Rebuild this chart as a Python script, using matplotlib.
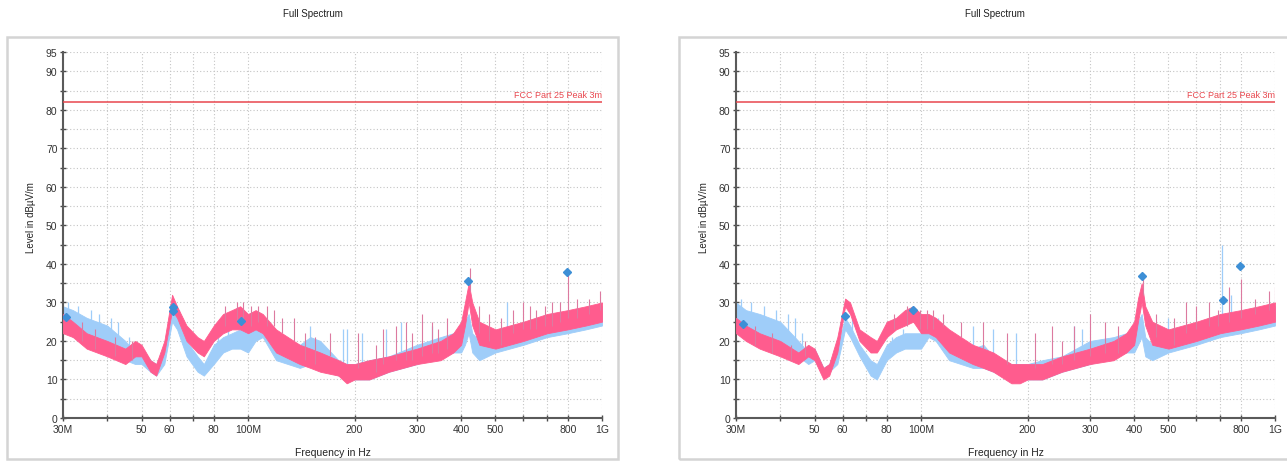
import numpy as np
import matplotlib
matplotlib.use("Agg")
import matplotlib.pyplot as plt
from matplotlib.patches import Rectangle
from matplotlib.ticker import FixedLocator, NullFormatter

plt.rcParams["font.family"] = ["Liberation Sans", "DejaVu Sans"]

# frequency grid in MHz, shared by all traces
freq = [30, 32, 35, 40, 45, 48, 50, 53, 55, 58, 61, 63, 67, 72, 75, 80, 85, 90, 95, 100,
        105, 110, 120, 140, 150, 160, 180, 190, 200, 220, 250, 300, 350, 380, 400, 410,
        420, 430, 450, 500, 600, 700, 800, 900, 1000]

# left chart, envelopes in dBuV/m
pink_lo_l = [22, 21, 18, 16, 14, 16, 16, 12, 11, 17, 28, 26, 20, 17, 16, 20, 22, 23, 23, 22,
             23, 22, 17, 14, 13, 12, 11, 9, 10, 10, 12, 14, 15, 17, 19, 24,
             30, 24, 19, 18, 20, 22, 23, 24, 25]
pink_hi_l = [27, 25, 22, 20, 18, 20, 19, 15, 14, 20, 32, 29, 24, 21, 20, 24, 27, 28, 29, 27,
             28, 27, 23, 19, 18, 17, 15, 14, 14, 15, 16, 18, 20, 22, 25, 30,
             35, 30, 25, 23, 25, 27, 28, 29, 30]
blue_lo_l = [24, 21, 20, 18, 15, 14, 14, 12, 11, 14, 25, 23, 16, 12, 11, 14, 17, 18, 18, 17,
             20, 21, 15, 13, 14, 13, 11, 10, 10, 10, 12, 14, 16, 17, 17, 19,
             22, 17, 15, 17, 19, 21, 22, 23, 24]
blue_hi_l = [29, 28, 26, 24, 20, 17, 18, 15, 14, 18, 28, 26, 20, 16, 14, 19, 21, 22, 23, 22,
             25, 25, 21, 19, 21, 20, 15, 14, 14, 15, 16, 19, 21, 22, 23, 25,
             27, 22, 20, 21, 24, 26, 27, 28, 29]

# right chart
pink_lo_r = [22, 20, 18, 16, 14, 16, 15, 10, 11, 17, 29, 27, 20, 17, 17, 21, 23, 24, 25, 22,
             22, 21, 17, 14, 13, 12, 9, 9, 10, 10, 12, 14, 15, 17, 19, 25,
             30, 24, 19, 18, 20, 22, 23, 24, 25]
pink_hi_r = [26, 24, 22, 20, 17, 19, 18, 13, 14, 21, 31, 30, 23, 21, 20, 25, 26, 28, 29, 27,
             27, 26, 23, 19, 18, 17, 14, 14, 14, 14, 16, 18, 20, 22, 25, 31,
             35, 29, 25, 23, 25, 27, 28, 29, 30]
blue_lo_r = [25, 23, 22, 19, 16, 14, 15, 11, 12, 14, 23, 21, 16, 11, 10, 15, 17, 18, 18, 18,
             21, 20, 15, 13, 13, 12, 10, 10, 10, 10, 12, 14, 16, 17, 17, 19,
             21, 16, 15, 17, 19, 21, 22, 23, 24]
blue_hi_r = [30, 28, 27, 25, 20, 17, 18, 13, 14, 18, 26, 24, 19, 15, 14, 19, 21, 22, 22, 22,
             25, 24, 20, 18, 19, 16, 14, 14, 14, 15, 16, 20, 21, 22, 23, 25,
             27, 21, 19, 21, 24, 26, 27, 28, 29]

# spikes: frequency, base level, top level
pspk_f_l = [34, 37, 42, 47, 86, 93, 97, 102, 107, 113, 118, 125, 135, 145, 155, 170, 205, 230,
            240, 262, 280, 290, 310, 330, 345, 365, 425, 450, 480, 520, 560, 600, 625, 650,
            690, 720, 760, 800, 850, 920, 990]
pspk_b_l = [20, 18, 16, 15, 24, 25, 25, 24, 25, 24, 24, 22, 20, 15, 14, 16, 13, 12,
            14, 15, 15, 15, 16, 17, 17, 18, 33, 22, 20, 19, 22, 23, 23, 23,
            24, 24, 25, 26, 26, 27, 28]
pspk_t_l = [25, 23, 21, 20, 29, 30, 30, 29, 29, 29, 28, 26, 26, 22, 21, 22, 22, 19,
            23, 24, 25, 22, 27, 25, 23, 26, 39, 29, 27, 26, 28, 30, 29, 28,
            29, 30, 30, 37, 31, 31, 33]
bspk_f_l = [31, 33, 36, 38, 41, 43, 46, 64, 82, 88, 98, 104, 108, 112, 150, 185, 190, 210,
            245, 270, 330, 540]
bspk_b_l = [25, 24, 22, 21, 19, 18, 16, 24, 16, 19, 19, 21, 22, 22, 19, 13, 13, 13,
            14, 15, 17, 21]
bspk_t_l = [30, 29, 28, 27, 26, 25, 21, 28, 21, 23, 24, 27, 27, 26, 24, 23, 23, 22,
            23, 25, 24, 30]

pspk_f_r = [34, 38, 43, 47, 84, 91, 99, 104, 108, 115, 130, 150, 175, 210, 235, 250, 270, 300,
            330, 360, 425, 460, 520, 560, 600, 650, 690, 740, 800, 880, 960, 1000]
pspk_b_r = [19, 17, 15, 16, 23, 24, 23, 23, 23, 24, 21, 18, 14, 13, 14, 14, 15, 16,
            17, 17, 32, 21, 19, 22, 23, 24, 24, 25, 26, 27, 28, 28]
pspk_t_r = [24, 22, 19, 20, 27, 29, 28, 28, 28, 27, 25, 25, 22, 22, 24, 20, 24, 27,
            25, 24, 37, 27, 26, 30, 29, 30, 28, 34, 36, 31, 33, 34]
bspk_f_r = [31, 33, 36, 39, 42, 44, 46, 64, 83, 89, 101, 106, 112, 140, 160, 185, 270, 285,
            500, 710, 750]
bspk_b_r = [26, 24, 23, 21, 19, 18, 17, 22, 17, 19, 19, 22, 22, 17, 15, 13, 15, 16,
            20, 25, 25]
bspk_t_r = [31, 30, 29, 28, 27, 26, 22, 26, 21, 23, 23, 26, 26, 24, 23, 22, 24, 23,
            26, 45, 32]

# detected peaks
mk_f_l = [30.5, 61.2, 61.2, 95.4, 417, 795]
mk_v_l = [26.1, 28.7, 27.8, 25.3, 35.6, 37.8]
mk_f_r = [31.5, 60.8, 94.9, 422, 711, 795]
mk_v_r = [24.4, 26.4, 28.0, 36.9, 30.7, 39.5]

limit_level = 82
limit_name = "FCC Part 25 Peak 3m"

xticks = [30, 40, 50, 60, 70, 80, 100, 200, 300, 400, 500, 600, 700, 800, 1000]
xlabels = ["30M", "", "50", "60", "", "80", "100M", "200", "300", "400", "500", "", "", "800", "1G"]
yticks = [0, 10, 20, 30, 40, 50, 60, 70, 80, 90, 95]
yminor = [5, 15, 25, 35, 45, 55, 65, 75, 85]

PINK = "#ff5c8e"
BLUE = "#9fcdf9"
MARK = "#3d8fd6"
LIMIT = "#e8474e"
W, H = 1287, 464

fig = plt.figure(figsize=(W / 100, H / 100), dpi=100)


def draw_panel(px0, box_x0, box_x1, pink_lo, pink_hi, blue_lo, blue_hi,
               pspk, bspk, mk_f, mk_v):
    # grey frame around the chart
    fig.patches.append(Rectangle((box_x0 / W, 1 - 460 / H), (box_x1 - box_x0) / W, 422 / H,
                                 transform=fig.transFigure, fill=False,
                                 edgecolor="#d4d4d4", linewidth=1.8))
    fig.text((box_x0 + box_x1) / 2 / W, 1 - 14 / H, "Full Spectrum",
             ha="center", va="center", fontsize=7, color="#222222")

    ax = fig.add_axes([px0 / W, 1 - 419 / H, 539 / W, 366 / H])
    ax.set_xscale("log")
    ax.set_xlim(30, 1000)
    ax.set_ylim(0, 95)

    ax.fill_between(freq, blue_lo, blue_hi, color=BLUE, linewidth=0.6, zorder=2)
    ax.vlines(bspk[0], bspk[1], bspk[2], color=BLUE, linewidth=0.9, zorder=2)
    ax.fill_between(freq, pink_lo, pink_hi, color=PINK, linewidth=0.6, zorder=3)
    ax.vlines(pspk[0], pspk[1], pspk[2], color="#dc7aa0", linewidth=0.8, zorder=3)

    ax.axhline(limit_level, color=LIMIT, linewidth=1.1, zorder=4)
    ax.text(1000, limit_level + 0.8, limit_name, ha="right", va="bottom",
            fontsize=6.5, color=LIMIT, zorder=4)

    ax.plot(mk_f, mk_v, linestyle="none", marker="D", markersize=4.5,
            color=MARK, zorder=5)

    ax.xaxis.set_major_locator(FixedLocator(xticks))
    ax.set_xticklabels(xlabels)
    ax.xaxis.set_minor_formatter(NullFormatter())
    ax.xaxis.set_minor_locator(FixedLocator([]))
    ax.set_yticks(yticks)
    ax.set_yticks(yminor, minor=True)

    ax.grid(True, which="both", color="#c4c4c4", linestyle=(0, (1, 2)), linewidth=0.8)
    ax.set_axisbelow(True)
    for s in ["top", "right"]:
        ax.spines[s].set_visible(False)
    for s in ["left", "bottom"]:
        ax.spines[s].set_color("#5a5a5a")
        ax.spines[s].set_linewidth(1.5)
    ax.tick_params(which="both", direction="inout", length=4, width=1,
                   color="#4a4a4a", labelsize=7.5, labelcolor="#333333", pad=2)

    ax.set_xlabel("Frequency in Hz", fontsize=7.5, color="#222222")
    ax.xaxis.set_label_coords(0.5, -0.08)
    ax.set_ylabel("Level in dBµV/m", fontsize=7, color="#222222")
    ax.yaxis.set_label_coords(-0.05, 0.55)
    return ax


draw_panel(63, 7, 618, pink_lo_l, pink_hi_l, blue_lo_l, blue_hi_l,
           (pspk_f_l, pspk_b_l, pspk_t_l), (bspk_f_l, bspk_b_l, bspk_t_l), mk_f_l, mk_v_l)
draw_panel(736, 679, 1310, pink_lo_r, pink_hi_r, blue_lo_r, blue_hi_r,
           (pspk_f_r, pspk_b_r, pspk_t_r), (bspk_f_r, bspk_b_r, bspk_t_r), mk_f_r, mk_v_r)

fig.savefig("out.png", dpi=100)
